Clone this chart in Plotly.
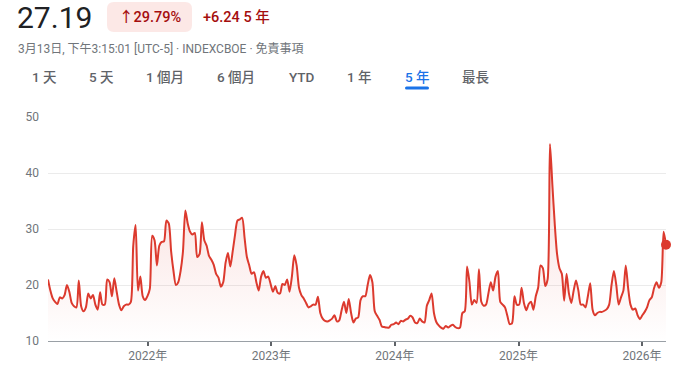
import plotly.graph_objects as go
import pandas as pd

# ---- data (weekly closes) ----
start_date = "2021-03-12"
vix = [
    21, 19, 17.6, 17, 16.6, 17.8, 17.6, 18.2, 20, 18.8,
    16.8, 16.2, 16.0, 20.8, 16.2, 15.3, 16, 18.5, 17.6, 18.2,
    16.5, 15.6, 18.7, 16.5, 16.5, 21, 20.5, 18, 21.2, 18.8,
    16.5, 15.5, 16.2, 16.5, 16.5, 17, 27, 30.7, 19, 21.5,
    18, 17.3, 18, 19.3, 28.8, 28, 23.5, 27, 27.7, 27.8,
    31.5, 31, 26, 22.5, 20, 20.5, 22.5, 26, 33.3, 31,
    29.5, 29, 29.3, 25, 25.5, 31.2, 28, 27, 25.2, 24.5,
    23.6, 22, 21.3, 19.7, 20.5, 24, 25.7, 23.3, 26, 29,
    31.5, 31.7, 32, 28.5, 25, 23.5, 22, 22.3, 20.5, 19,
    21.5, 22.5, 21.3, 21.5, 20.2, 18.8, 19.8, 18.6, 18.5, 20.2,
    20, 21, 18.8, 21.5, 25.3, 23.5, 19.5, 18.2, 17.6, 16.8,
    16, 16.2, 16.5, 16.5, 17.9, 15, 14, 13.6, 13.5, 13.7,
    14, 14.6, 13.5, 13.7, 15.5, 17, 15, 17.5, 15, 13.3,
    14, 14.2, 17.3, 18, 18, 20, 21.8, 20.5, 15.3, 14.5,
    13.8, 12.6, 12.5, 12.4, 12.4, 12.9, 13, 13.3, 13, 13.6,
    13.5, 13.8, 14, 14.5, 14.2, 13.3, 13.2, 14, 13.5, 13.3,
    16.3, 17.3, 18.5, 15, 13.4, 12.8, 12.4, 12.2, 12.7, 12.4,
    12.7, 12.9, 12.5, 12.3, 12.4, 15, 15.3, 23.3, 20.5, 16.5,
    17.3, 16.8, 22.8, 17, 16.3, 16.5, 18.5, 20.5, 19, 21.5,
    22.5, 17, 16.5, 16, 14.5, 13, 13.2, 18, 16.5, 16.5,
    19.5, 16.8, 15.5, 16.6, 17, 15.6, 18, 19.5, 23.5, 23,
    19.8, 21, 45.2, 38, 31, 25.5, 23, 22, 17.2, 22,
    18.5, 16.8, 19, 20.8, 19, 16.5, 16.5, 16, 18, 20.3,
    15.6, 14.6, 15, 15.2, 15.2, 15.4, 15.7, 16.5, 20, 22.5,
    20, 16.5, 17.8, 19, 23.5, 19.5, 16.5, 15.6, 15.8, 14.6,
    13.9, 14.6, 15.2, 16, 17.3, 17.8, 19.5, 20.5, 19.5, 20.5,
    29.5, 27.19,
]
dates = pd.date_range(start_date, periods=len(vix), freq="7D")

y_ticks = [10, 20, 30, 40, 50]
year_ticks = ["2022-01-01", "2023-01-01", "2024-01-01", "2025-01-01", "2026-01-01"]
year_labels = ["2022年", "2023年", "2024年", "2025年", "2026年"]

price = "27.19"
pct_change = "↑29.79%"
abs_change = "+6.24 5 年"
subtitle = "3月13日, 下午3:15:01 [UTC-5] · INDEXCBOE · 免責事項"
tabs = ["1 天", "5 天", "1 個月", "6 個月", "YTD", "1 年", "5 年", "最長"]
tab_x = [44, 101, 165, 236, 302, 359, 417, 476]
active_tab = "5 年"

# ---- layout helpers (pixel -> paper) ----
W, H = 679, 369
def px(x):
    return x / W
def py(y):
    return (H - y) / H

LINE = "#dc3a2e"
FONT = "Roboto, 'Noto Sans CJK TC', sans-serif"

fig = go.Figure()
fig.add_trace(go.Scatter(
    x=dates, y=vix, mode="lines",
    line=dict(color=LINE, width=2, shape="spline", smoothing=0.7),
    fill="tozeroy",
    fillgradient=dict(type="vertical", start=10, stop=42,
                      colorscale=[[0, "rgba(217,48,37,0)"], [1, "rgba(217,48,37,0.17)"]]),
    hoverinfo="skip", showlegend=False,
))
fig.add_trace(go.Scatter(
    x=[dates[-1]], y=[vix[-1]], mode="markers",
    marker=dict(color=LINE, size=10),
    cliponaxis=False, hoverinfo="skip", showlegend=False,
))

annotations = [
    dict(text=price, x=px(15), y=py(17), xanchor="left", yanchor="middle",
         font=dict(size=30, color="#202124", family=FONT)),
    dict(text=pct_change, x=px(150), y=py(17), xanchor="center", yanchor="middle",
         font=dict(size=14.5, color="#a50e0e", family=FONT, weight=500)),
    dict(text=abs_change, x=px(201), y=py(17), xanchor="left", yanchor="middle",
         font=dict(size=14.5, color="#a50e0e", family=FONT, weight=500)),
    dict(text=subtitle, x=px(16), y=py(49), xanchor="left", yanchor="middle",
         font=dict(size=12, color="#70757a", family=FONT)),
]
for t, tx in zip(tabs, tab_x):
    annotations.append(dict(
        text=t, x=px(tx), y=py(77), xanchor="center", yanchor="middle",
        font=dict(size=13.5, family=FONT, weight=500,
                  color="#1a73e8" if t == active_tab else "#5f6368")))
for a in annotations:
    a.update(xref="paper", yref="paper", showarrow=False)

# rounded badge behind the percent change
def rrect(x0, y0, x1, y1, r):
    X = lambda v: px(v)
    Y = lambda v: py(v)
    return (f"M {X(x0+r)},{Y(y0)} L {X(x1-r)},{Y(y0)} Q {X(x1)},{Y(y0)} {X(x1)},{Y(y0+r)} "
            f"L {X(x1)},{Y(y1-r)} Q {X(x1)},{Y(y1)} {X(x1-r)},{Y(y1)} "
            f"L {X(x0+r)},{Y(y1)} Q {X(x0)},{Y(y1)} {X(x0)},{Y(y1-r)} "
            f"L {X(x0)},{Y(y0+r)} Q {X(x0)},{Y(y0)} {X(x0+r)},{Y(y0)} Z")

shapes = [
    dict(type="path", path=rrect(107, 2, 192, 32, 7), xref="paper", yref="paper",
         fillcolor="#fce8e6", line=dict(width=0), layer="below"),
    dict(type="path", path=rrect(405, 86.5, 429, 89.5, 1.5), xref="paper", yref="paper",
         fillcolor="#1a73e8", line=dict(width=0)),
]

fig.update_layout(
    width=W, height=H,
    margin=dict(l=0, r=0, t=0, b=0),
    paper_bgcolor="white", plot_bgcolor="white",
    template="none",
    font=dict(family=FONT),
    annotations=annotations, shapes=shapes,
    xaxis=dict(
        domain=[px(48), px(666)],
        range=[dates[0], dates[-1]],
        tickvals=year_ticks, ticktext=year_labels,
        ticks="outside", ticklen=4, tickwidth=2, tickcolor="#5f6368",
        showgrid=False, zeroline=False,
        showline=True, linecolor="#9aa0a6", linewidth=1,
        tickfont=dict(size=12, color="#70757a", family=FONT),
        fixedrange=True,
    ),
    yaxis=dict(
        domain=[py(341), py(117)],
        range=[10, 50],
        tickvals=y_ticks,
        ticks="", ticklabelstandoff=8,
        showgrid=True, gridcolor="#ebebeb", gridwidth=1,
        zeroline=False, showline=False,
        tickfont=dict(size=12, color="#70757a", family=FONT),
        fixedrange=True,
    ),
)

fig.write_html("out.html")
